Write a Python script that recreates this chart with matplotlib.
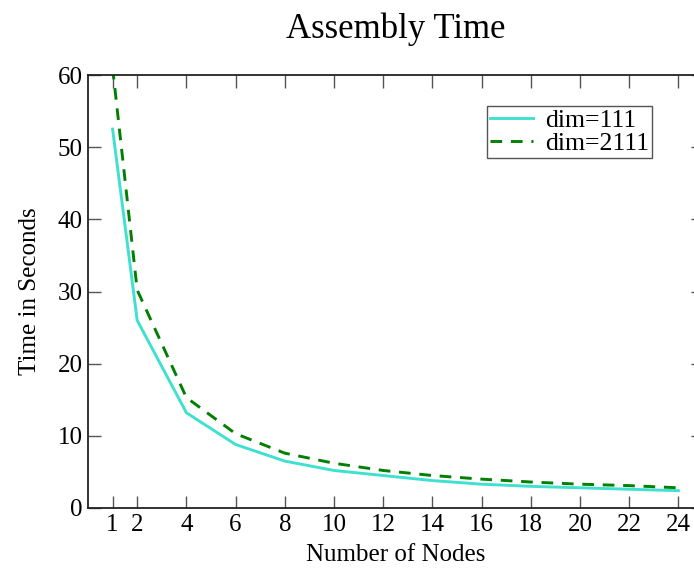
import matplotlib
matplotlib.use("Agg")
import matplotlib.pyplot as plt

nodes = [1, 2, 4, 6, 8, 10, 12, 14, 16, 18, 20, 22, 24]
dim111 = [52.5, 26.0, 13.2, 8.8, 6.5, 5.2, 4.5, 3.8, 3.3, 3.0, 2.8, 2.6, 2.4]
dim2111 = [61.0, 30.2, 15.3, 10.3, 7.6, 6.2, 5.2, 4.5, 4.0, 3.6, 3.3, 3.1, 2.8]
xticks = [1, 2, 4, 6, 8, 10, 12, 14, 16, 18, 20, 22, 24]
yticks = [0, 10, 20, 30, 40, 50, 60]

plt.rcParams['font.family'] = ['Liberation Serif', 'DejaVu Serif']

fig = plt.figure(figsize=(6.94, 5.68), dpi=100)
ax = fig.add_axes([88/694, 1 - 508/568, (703 - 88)/694, (508 - 75)/568])

ax.plot(nodes, dim111, color='#40E0D0', lw=2.1, label='dim=111')
ax.plot(nodes, dim2111, color='#008000', lw=2.1, ls=(0, (4, 3)), label='dim=2111')

ax.set_xlim(0, 25)
ax.set_ylim(0, 60)
ax.set_xticks(xticks)
ax.set_yticks(yticks)
ax.tick_params(direction='in', length=9, width=1, colors='#555555', labelcolor='black',
               labelsize=18, top=True, right=True, pad=4)
for s in ax.spines.values():
    s.set_color('#222222')
    s.set_linewidth(1.3)

ax.set_title('Assembly Time', fontsize=25, pad=27)
ax.set_xlabel('Number of Nodes', fontsize=18, labelpad=6)
ax.set_ylabel('Time in Seconds', fontsize=18, labelpad=12)

leg = ax.legend(loc='upper right', bbox_to_anchor=((652 - 88)/615, 1 - (106 - 75)/433),
                fontsize=18.5, fancybox=False, framealpha=1, edgecolor='#555555',
                borderpad=0.12, labelspacing=0.0, handlelength=1.7, handletextpad=0.45,
                borderaxespad=0)
leg.get_frame().set_linewidth(1.0)

fig.savefig('out.png', dpi=100)
